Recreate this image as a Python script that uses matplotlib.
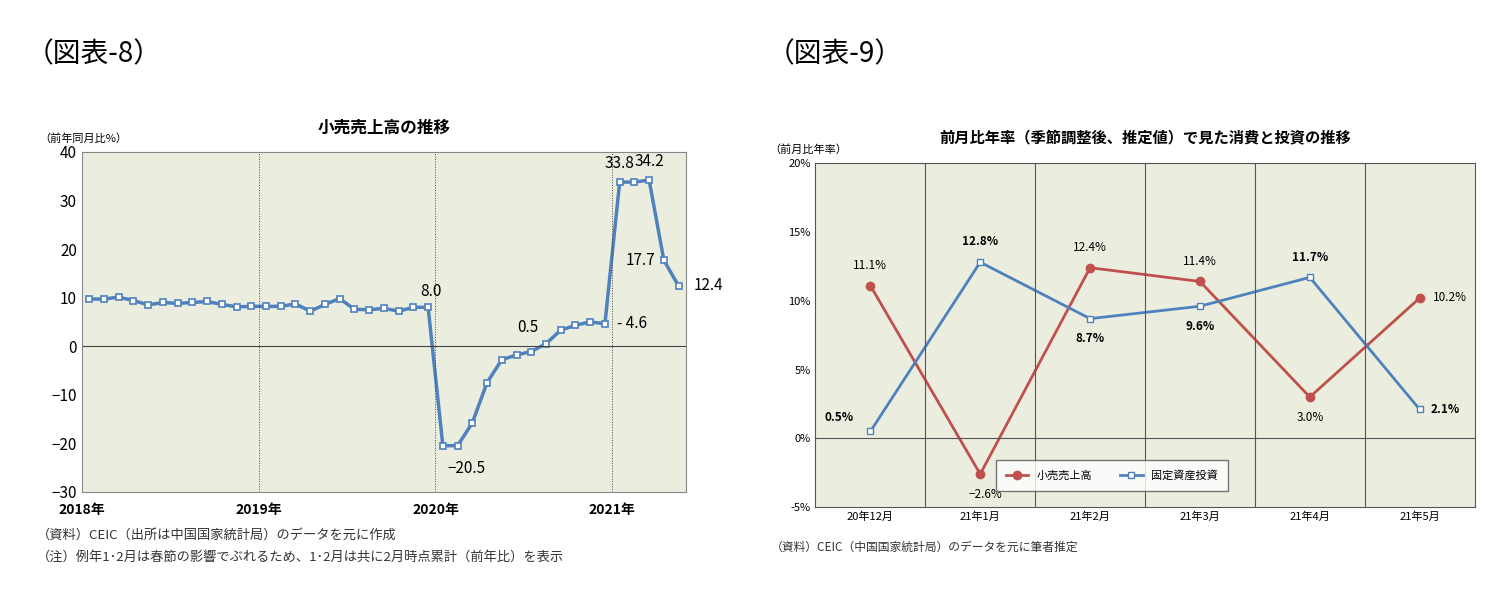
import numpy as np
import matplotlib
matplotlib.use('Agg')
import matplotlib.pyplot as plt
from matplotlib import rcParams
rcParams.update({'font.family': 'Noto Sans CJK JP', 'font.size': 9})

# left chart: retail sales yoy (%), Jan 2018 - May 2021
retail = [9.7, 9.7, 10.1, 9.4, 8.5, 9.0, 8.8, 9.0, 9.2, 8.6, 8.1, 8.2,
          8.2, 8.2, 8.7, 7.2, 8.6, 9.8, 7.6, 7.5, 7.8, 7.2, 8.0, 8.0,
          -20.5, -20.5, -15.8, -7.5, -2.8, -1.8, -1.1, 0.5, 3.3, 4.3, 5.0, 4.6,
          33.8, 33.8, 34.2, 17.7, 12.4]
year_labels = ['2018年', '2019年', '2020年', '2021年']

# right chart: mom annualized (%)
months = ['20年12月', '21年1月', '21年2月', '21年3月', '21年4月', '21年5月']
sales = [11.1, -2.6, 12.4, 11.4, 3.0, 10.2]
invest = [0.5, 12.8, 8.7, 9.6, 11.7, 2.1]

bg = '#ebeedf'
blue = '#4f81bd'
red = '#c0504d'

fig = plt.figure(figsize=(14.88, 5.89), dpi=100)
fig.text(0.017, 0.895, '（図表-8）', fontsize=20)
fig.text(0.515, 0.895, '（図表-9）', fontsize=20)

# ---- left
ax = fig.add_axes([0.055, 0.165, 0.406, 0.577])
ax.set_facecolor(bg)
x = np.arange(len(retail)) + 0.5
ax.plot(x, retail, color=blue, lw=2.5, marker='s', ms=5, mfc='white', mec=blue, mew=1.2)
ax.set_xlim(0, len(retail))
ax.set_ylim(-30, 40)
ax.set_yticks(range(-30, 41, 10))
ax.set_xticks([0, 12, 24, 36])
ax.set_xticklabels(year_labels, fontweight='bold')
ax.tick_params(axis='y', labelsize=11, length=0)
ax.tick_params(axis='x', labelsize=10, length=0, pad=8)
for v in [12, 24, 36]:
    ax.axvline(v, color='#444444', lw=0.7, ls=':')
ax.axhline(0, color='#444444', lw=0.8)
for s in ax.spines.values():
    s.set_color('#888888')
ax.set_title('小売売上高の推移', fontsize=12, fontweight='bold', pad=14)
ax.text(-0.07, 1.03, '（前年同月比%）', transform=ax.transAxes, fontsize=8, ha='left')
lab = {23: (0.2, 1.5, 'center', 'bottom'), 24: (0.3, -3, 'left', 'top'), 31: (-0.5, 1.5, 'right', 'bottom'),
       35: (0.8, 0, 'left', 'center'), 36: (0, 2, 'center', 'bottom'), 38: (0, 2, 'center', 'bottom'),
       39: (-0.6, 0, 'right', 'center'), 40: (1.0, 0, 'left', 'center')}
for i, (dx, dy, ha, va) in lab.items():
    t = '- %.1f' % retail[i] if i == 35 else '%.1f' % retail[i]
    ax.text(x[i] + dx, retail[i] + dy, t.replace('-20.5', '−20.5'), fontsize=11, ha=ha, va=va)
fig.text(0.025, 0.085, '（資料）CEIC（出所は中国国家統計局）のデータを元に作成', fontsize=9.5, color='#333333')
fig.text(0.025, 0.048, '（注）例年1･2月は春節の影響でぶれるため、1･2月は共に2月時点累計（前年比）を表示', fontsize=9.5, color='#333333')

# ---- right
ax2 = fig.add_axes([0.548, 0.139, 0.443, 0.584])
ax2.set_facecolor(bg)
xi = np.arange(len(months))
l1, = ax2.plot(xi, sales, color=red, lw=2, marker='o', ms=6, label='小売売上高')
l2, = ax2.plot(xi, invest, color=blue, lw=2, marker='s', ms=5, mfc='white', mec=blue, label='固定資産投資')
ax2.set_xlim(-0.5, len(months) - 0.5)
ax2.set_ylim(-5, 20)
ax2.set_yticks(range(-5, 21, 5))
ax2.set_yticklabels(['%d%%' % v for v in range(-5, 21, 5)])
ax2.set_xticks(xi)
ax2.set_xticklabels(months)
ax2.tick_params(labelsize=8, length=0)
for v in xi[:-1] + 0.5:
    ax2.axvline(v, color='#555555', lw=0.8)
ax2.axhline(0, color='#555555', lw=0.8)
for s in ax2.spines.values():
    s.set_color('#555555')
ax2.set_title('前月比年率（季節調整後、推定値）で見た消費と投資の推移', fontsize=11, fontweight='bold', pad=14)
ax2.text(-0.07, 1.03, '（前月比年率）', transform=ax2.transAxes, fontsize=8, ha='left')
s_off = [(0, 1.0, 'bottom'), (0.05, -1.0, 'top'), (0, 1.0, 'bottom'), (0, 1.0, 'bottom'), (0, -1.0, 'top'), (0.12, 0, 'center')]
i_off = [(-0.15, 1.0, 'center'), (0, 1.0, 'bottom'), (0, -1.0, 'top'), (0, -1.0, 'top'), (0, 1.0, 'bottom'), (0.1, 0, 'center')]
for i in xi:
    dx, dy, va = s_off[i]
    ax2.text(i + dx, sales[i] + dy, ('%.1f%%' % sales[i]).replace('-', '−'), fontsize=8.5,
             ha='center' if dx < 0.1 else 'left', va=va)
    dx, dy, va = i_off[i]
    ax2.text(i + dx, invest[i] + dy, '%.1f%%' % invest[i], fontsize=8.5, fontweight='bold',
             ha='center' if -0.1 < dx < 0.1 else ('right' if dx < 0 else 'left'), va=va)
ax2.legend(handles=[l1, l2], loc='lower center', bbox_to_anchor=(0.45, 0.03), ncol=2, fontsize=8,
           frameon=True, edgecolor='#555555', fancybox=False, borderpad=0.9, columnspacing=2.5)
fig.text(0.518, 0.065, '（資料）CEIC（中国国家統計局）のデータを元に筆者推定', fontsize=8.5, color='#333333')

plt.savefig('out.png', dpi=100)
